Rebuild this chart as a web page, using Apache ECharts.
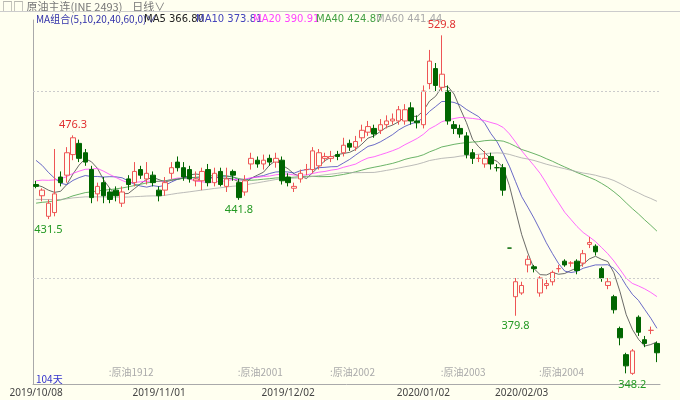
<!DOCTYPE html>
<html>
<head>
<meta charset="UTF-8">
<style>
  * { margin: 0; padding: 0; }
  body { background: #fffff0; }
  #chart { width: 680px; height: 400px; }
</style>
</head>
<body>
<div id="chart"></div>
<script src="https://cdn.jsdelivr.net/npm/echarts@6/dist/echarts.min.js"></script>
<script>
// [open, close, low, high]
var candles = [
  [450,449,448,452],[444,447,441,448],[433,440,431.5,442],[435,445,433,469],[454,451,449,457],
  [455,467,451,470],[466,475,463,476.3],[472,464,462,474],[467,462,460,469],[458,443,440,460],
  [445,449,441,451],[451,444,440,454],[446,442,440,448],[447,444,441,449],[440,446,438,449],
  [453,450,447,455],[451,457,449,462],[458,455,453,460],[453,456,450,462],[455,451,449,457],
  [447,444,441,449],[447,451,444,454],[456,459,453,462],[462,459,457,465],[459,454,452,462],
  [458,453,451,460],[452,453,449,457],[452,457,447,459],[458,451,449,461],[451,456,449,459],
  [457,450,449,459],[449,453,446,459],[457,455,452,458],[451,443,441.8,453],[446,452,444,455],
  [461,464,458,467],[463,461,459,465],[461,463,458,466],[464,462,460,466],[462,464,459,467],
  [463,452,450,465],[454,451,449,456],[448,449,446,451],[453,456,451,458],[458,458,455,461],
  [458,468,456,470],[460,467,458,469],[464,465,462,467],[464,465,462,468],[466,465,463,468],
  [467,471,465,475],[472,470,468,474],[470,473,468,476],[475,479,473,482],[478,481,476,484],
  [480,477,475,482],[479,482,477,485],[482,484,480,487],[484,485,482,488],[484,490,482,492],
  [484,490,482,493],[491,484,482,494],[484,483,480,487],[482,500,480,503],[504,516,501,522],
  [512,503,500,515],[502,509,500,529.8],[500,484,482,503],[482,480,477,484],[480,477,475,482],
  [476,466,464,478],[467,464,461,469],[464,464,462,466],[461,464,459,468],[465,461,458,467],
  [459,459,457,461],[459,447,444,461],[416,416,416,416],[390,398,379.8,400],[392,396,391,398],
  [407,410,403,412],[406,405,403,407],[392,400,390,401],[396,397,394,399],[398,403,396,404],
  [405,405,403,407],[409,407,406,410],[408,408,406,409],[409,404,402,410],[408,413,406,415],
  [418,419,416,422],[417,414,412,418],[405,400,398,406],[396,398,394,400],[390,383,381,391],
  [373,368,364,374],[359,353,349,360],[349,361,348.2,362],[379,371,369,380],[367,365,363,369],
  [372,372,370,374],[365,360,355,366]
];
// closes before the first visible day, oldest first, for the moving averages
var priorCloses = [
  446,447,445,448,446,444,447,446,445,447,446,448,445,446,447,445,446,444,447,446,
  429,428,427,430,428,426,429,428,427,429,428,430,427,428,426,429,428,427,429,428,
  440,442,441,439,443,441,440,442,441,442,
  474,477,476,478,475,
  452,449,451,448
];
var maPeriods = [5, 10, 20, 40, 60];
var maColors = ['#444444', '#4444bb', '#ff44ff', '#44a044', '#aaaaaa'];
var maLegend = ['MA5 366.80', 'MA10 373.81', 'MA20 390.91', 'MA40 424.87', 'MA60 441.44'];
var dateLabels = {0: '2019/10/08', 20: '2019/11/01', 41: '2019/12/02', 63: '2020/01/02', 79: '2020/02/03', 103: '2020/03/06'};
var contractMarks = [[11, '原油1912'], [32, '原油2001'], [47, '原油2002'], [65, '原油2003'], [81, '原油2004'], [102, '原油200']];
var highMarks = [[6, 476.3], [66, 529.8]];
var lowMarks = [[2, 431.5], [33, 441.8], [78, 379.8], [97, 348.2]];
var yMin = 343.3, yMax = 538;

var cats = candles.map(function (c, i) { return i; });
var closes = priorCloses.concat(candles.map(function (c) { return c[1]; }));

function ma(n) {
  var out = [];
  for (var i = 0; i < candles.length; i++) {
    var end = priorCloses.length + i, s = 0;
    for (var k = end - n + 1; k <= end; k++) s += closes[k];
    out.push(+(s / n).toFixed(2));
  }
  return out;
}

var markData = [];
highMarks.forEach(function (m) {
  markData.push({coord: [m[0], m[1]], label: {color: '#e03030', position: 'top', formatter: m[1].toFixed(1)}});
});
lowMarks.forEach(function (m) {
  markData.push({coord: [m[0], m[1]], label: {color: '#229922', position: 'bottom', formatter: m[1].toFixed(1)}});
});
contractMarks.forEach(function (m) {
  markData.push({coord: [m[0], yMin], label: {color: '#aaaaaa', position: 'insideBottomLeft', offset: [0, -2], fontFamily: 'Noto Sans CJK SC', fontSize: 10, formatter: ':' + m[1]}});
});

var series = [{
  type: 'candlestick',
  data: candles,
  barWidth: 5,
  itemStyle: {color: '#fffff0', color0: '#006600', borderColor: '#ee5555', borderColor0: '#006600', borderWidth: 1},
  markPoint: {symbol: 'circle', symbolSize: 0, data: markData, label: {fontSize: 11, fontFamily: 'Noto Sans'}},
  markLine: {
    symbol: 'none', silent: true, label: {show: false},
    lineStyle: {color: '#cccccc', type: [2, 2], width: 1},
    data: [{yAxis: 500}, {yAxis: 400}]
  }
}];
maPeriods.forEach(function (p, i) {
  series.push({type: 'line', data: ma(p), symbol: 'none', smooth: false, lineStyle: {color: maColors[i], width: 0.8}, z: 1});
});

var legendGraphics = [
  {type: 'text', left: 2, top: 1, style: {text: '□□ 原油主连(INE 2493)    日线∨', fill: '#777', font: '11px "Noto Sans CJK SC"'}},
  {type: 'rect', left: 0, top: 11, shape: {width: 680, height: 1}, style: {fill: '#cccccc'}},
  {type: 'text', left: 36, top: 14, style: {text: 'MA组合(5,10,20,40,60,0)∨', fill: '#3333aa', font: '10px "Noto Sans CJK SC"'}},
  {type: 'text', left: 36, top: 374, style: {text: '104天', fill: '#3333cc', font: '10px "Noto Sans CJK SC"'}}
];
var lx = [144, 196, 253, 316, 376];
maLegend.forEach(function (t, i) {
  legendGraphics.push({type: 'text', left: lx[i], top: 14, style: {text: t, fill: i === 0 ? '#222' : maColors[i], font: '10px Verdana, "DejaVu Sans"'}});
});

var chart = echarts.init(document.getElementById('chart'));
chart.setOption({
  backgroundColor: '#fffff0',
  animation: false,
  grid: {left: 33, right: 20, top: 20, bottom: 16},
  xAxis: {
    type: 'category', data: cats, boundaryGap: true,
    axisLine: {lineStyle: {color: '#aaaaaa'}},
    axisTick: {show: false},
    axisLabel: {
      interval: 0, color: '#444', fontSize: 10, fontFamily: 'Noto Sans', margin: 4,
      formatter: function (v, i) { return dateLabels[i] || ''; }
    }
  },
  yAxis: {
    type: 'value', min: yMin, max: yMax, position: 'left',
    axisLine: {show: true, lineStyle: {color: '#aaaaaa'}},
    axisTick: {show: false},
    splitLine: {show: false},
    axisLabel: {
      color: '#444', fontSize: 10, fontFamily: 'Noto Sans', showMinLabel: false, showMaxLabel: false,
      customValues: [400, 500],
      formatter: function (v) { return v.toFixed(1); }
    }
  },
  graphic: legendGraphics,
  series: series
});
</script>
</body>
</html>
